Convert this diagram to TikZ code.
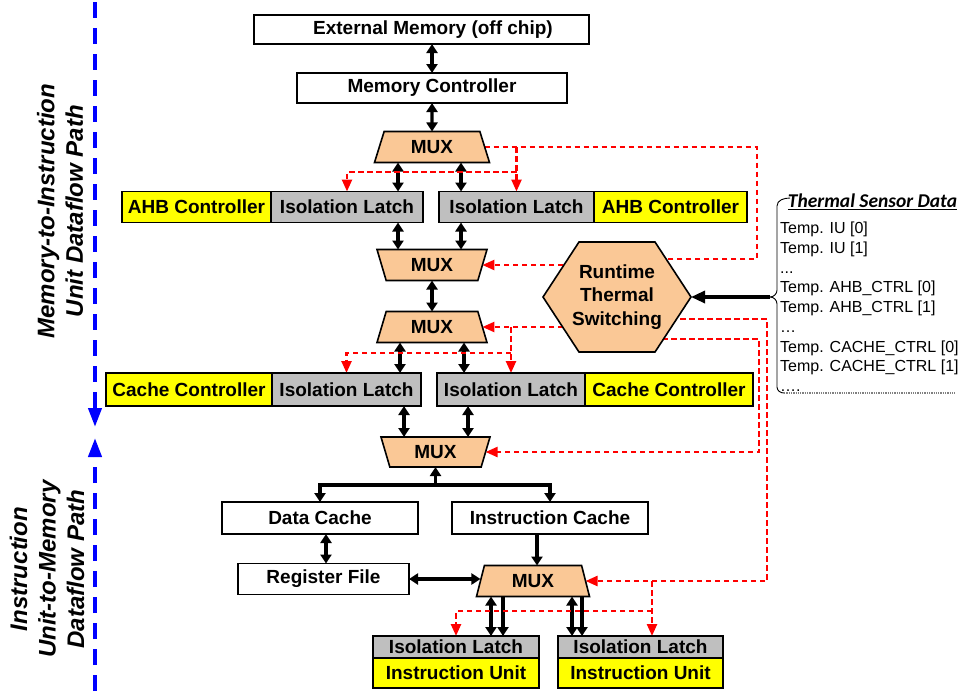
\documentclass[tikz,border=0pt]{standalone}
\usepackage{fontspec}
\setmainfont{Liberation Sans}
\newfontfamily\calibfont{Carlito}
\usetikzlibrary{shapes.geometric,shapes.symbols,arrows.meta,backgrounds}

\definecolor{ctrlyellow}{RGB}{255,255,0}
\definecolor{latchgray}{RGB}{191,191,191}
\definecolor{muxpeach}{RGB}{250,200,150}
\definecolor{ctrlred}{RGB}{255,0,0}
\definecolor{pathblue}{RGB}{0,0,255}

\begin{document}
\begin{tikzpicture}[x=1pt,y=-1pt,
  unitbox/.style={draw, line width=1.6pt, inner sep=0pt, outer sep=0pt,
    font=\bfseries\fontsize{19}{22}\selectfont},
  plainbox/.style={unitbox, fill=white},
  latchbox/.style={unitbox, fill=latchgray},
  ctrlbox/.style={unitbox, fill=ctrlyellow},
  muxbase/.style={unitbox, fill=muxpeach, shape=trapezium,
    trapezium stretches body=true, minimum height=31pt},
  muxup/.style 2 args={muxbase, trapezium left angle=#1,
    trapezium right angle=#1, minimum width=#2},
  muxdown/.style 2 args={muxup={#1}{#2}, shape border rotate=180},
  biarrow/.style={line width=3.2pt,
    {Triangle[width=11pt,length=9pt]}-{Triangle[width=11pt,length=9pt]}},
  fwdarrow/.style={line width=3.2pt, -{Triangle[width=11pt,length=9pt]}},
  ctrlline/.style={ctrlred, line width=2.4pt, dash pattern=on 5.5pt off 3.5pt},
  ctrlarrow/.style={ctrlline, -{Triangle[width=10pt,length=12pt]}},
  bluepath/.style={pathblue, line width=4pt, dash pattern=on 16pt off 10pt,
    -{Triangle[width=13pt,length=19pt]}},
  sidelabel/.style={rotate=90, align=center, inner sep=0pt,
    font=\bfseries\itshape\fontsize{24}{28.5}\selectfont}
]
\useasboundingbox (0,0) rectangle (963,691);

% ---- memory side ----
\node[plainbox, minimum width=335pt, minimum height=29pt] (ext) at (421.5,29.5)
  {\hspace*{23pt}External Memory (off chip)};
\node[plainbox, minimum width=270pt, minimum height=30pt] (memctl) at (432,88) {Memory Controller};
\node[muxup={54}{115pt}] (m1) at (432,147) {MUX};

% ---- AHB row ----
\node[ctrlbox, minimum width=149pt, minimum height=31pt] (ahb1) at (196.5,207) {AHB Controller};
\node[latchbox, minimum width=152pt, minimum height=31pt] (lat1) at (347,207) {Isolation Latch};
\node[latchbox, minimum width=155pt, minimum height=31pt] (lat2) at (516.5,207) {Isolation Latch};
\node[ctrlbox, minimum width=153pt, minimum height=31pt] (ahb2) at (670.5,207) {AHB Controller};

\node[muxdown={55.3}{110pt}] (m2) at (432,265) {MUX};
\node[muxup={55.3}{110pt}] (m3) at (432,327) {MUX};

% ---- cache controller row ----
\node[ctrlbox, minimum width=166pt, minimum height=33pt] (cc1) at (189,389.5) {Cache Controller};
\node[latchbox, minimum width=149pt, minimum height=33pt] (lat3) at (346.5,389.5) {Isolation Latch};
\node[latchbox, minimum width=148pt, minimum height=33pt] (lat4) at (511,389.5) {Isolation Latch};
\node[ctrlbox, minimum width=168pt, minimum height=33pt] (cc2) at (669,389.5) {Cache Controller};

\node[muxdown={56.3}{109pt}, minimum height=30pt] (m4) at (435.5,452) {MUX};

% ---- caches, register file, instruction units ----
\node[plainbox, minimum width=196pt, minimum height=32pt] (dc) at (320,518) {Data Cache};
\node[plainbox, minimum width=196pt, minimum height=32pt] (ic) at (550,518) {Instruction Cache};
\node[plainbox, minimum width=171pt, minimum height=31pt] (rf) at (323.5,579) {Register File};
\node[muxup={59.2}{113pt}] (m5) at (533,581) {MUX};

\node[latchbox, minimum width=166pt, minimum height=22pt] (lat5) at (456,647) {Isolation Latch};
\node[ctrlbox, minimum width=166pt, minimum height=30pt] (iu1) at (456,673) {Instruction Unit};
\node[latchbox, minimum width=165pt, minimum height=22pt] (lat6) at (640.5,647) {Isolation Latch};
\node[ctrlbox, minimum width=165pt, minimum height=30pt] (iu2) at (640.5,673) {Instruction Unit};

% ---- thermal switching unit ----
\node[unitbox, fill=muxpeach, shape=signal, signal to=west and east,
  signal pointer angle=113.6, inner xsep=-7pt, minimum width=148pt, minimum height=110pt,
  align=center, font=\bfseries\fontsize{19}{23.5}\selectfont] (hex) at (617,297)
  {Runtime\\Thermal\\Switching};

% ---- sensor list with brace ----
\node[inner sep=0pt, font=\calibfont\bfseries\itshape\fontsize{19.5}{22}\selectfont]
  (senshead) at (872.5,202) {\underline{Thermal Sensor Data}};
\node[inner sep=0pt, anchor=north west, align=left,
  font=\fontsize{16}{19.7}\selectfont] (senslist) at (780,222)
  {Temp. IU [0]\\Temp. IU [1]\\...\\Temp. AHB\_CTRL [0]\\Temp. AHB\_CTRL [1]\\%
   …\\Temp. CACHE\_CTRL [0]\\Temp. CACHE\_CTRL [1]\\….};
\coordinate (btip) at (770,297);
\draw[line width=0.9pt] (790,198) to[out=180,in=90] (777,206) -- (777,290)
  to[out=270,in=0] (btip) to[out=0,in=90] (777,304) -- (777,387)
  to[out=270,in=180] (784,393);
\draw[gray, line width=1.3pt, densely dotted] (784,393) -- (955,393);
\draw[line width=3.2pt, -{Triangle[width=12pt,length=14pt]}] (btip) -- (hex.east);

% ---- side labels and divider ----
\node[sidelabel] (upperlbl) at (60,211) {Memory-to-Instruction\\Unit Dataflow Path};
\node[sidelabel] (lowerlbl) at (47,569) {Instruction\\Unit-to-Memory\\Dataflow Path};
\coordinate (btop) at (95,2);
\coordinate (bmida) at (95,427);
\coordinate (bmidb) at (95,438);
\coordinate (bbot) at (95,691);
\draw[bluepath] (btop) -- (bmida);
\draw[bluepath] (bbot) -- (bmidb);

% ---- connectors (behind the blocks) ----
\begin{scope}[on background layer]
  \fill[white] (0,0) rectangle (963,691);

  % data paths
  \draw[biarrow] (memctl.north |- ext.south) -- (memctl.north);
  \draw[biarrow] (memctl.south) -- (m1.north);
  \coordinate (xa) at (398,0);
  \coordinate (xb) at (461,0);
  \coordinate (xc) at (400,0);
  \coordinate (xd) at (464,0);
  \coordinate (xe) at (404,0);
  \coordinate (xf) at (468,0);
  \draw[biarrow] (xa |- m1.south) -- (xa |- lat1.north);
  \draw[biarrow] (xb |- m1.south) -- (xb |- lat2.north);
  \draw[biarrow] (xa |- lat1.south) -- (xa |- m2.north);
  \draw[biarrow] (xb |- lat2.south) -- (xb |- m2.north);
  \draw[biarrow] (m2.south) -- (m3.north);
  \draw[biarrow] (xc |- m3.south) -- (xc |- lat3.north);
  \draw[biarrow] (xd |- m3.south) -- (xd |- lat4.north);
  \draw[biarrow] (xe |- lat3.south) -- (xe |- m4.north);
  \draw[biarrow] (xf |- lat4.south) -- (xf |- m4.north);

  \coordinate (bus) at (m4.south |- 0,485);
  \draw[fwdarrow] (bus) -- (m4.south);
  \draw[fwdarrow] (bus) -| (dc.north);
  \draw[fwdarrow] (bus) -| (ic.north);

  \draw[biarrow] (326,0 |- dc.south) -- (326,0 |- rf.north);
  \draw[fwdarrow] (537,0 |- ic.south) -- (537,0 |- m5.north);
  \draw[biarrow] (rf.east) -- (rf.east -| m5.west);
  \draw[biarrow] (491,0 |- m5.south) -- (491,0 |- lat5.north);
  \draw[fwdarrow] (503,0 |- m5.south) -- (503,0 |- lat5.north);
  \draw[biarrow] (572,0 |- m5.south) -- (572,0 |- lat6.north);
  \draw[fwdarrow] (582,0 |- m5.south) -- (582,0 |- lat6.north);

  % thermal switching control lines
  \coordinate (k1) at (757,259);
  \draw[ctrlline] (m1.east) -| (k1) -- (k1 -| hex.center);
  \draw[ctrlarrow] (lat2.north |- m1.east) -- (lat2.north);
  \coordinate (j1) at (lat2.north |- 0,172);
  \draw[ctrlarrow] (j1) -| (lat1.north);

  \draw[ctrlarrow] (m2.east -| hex.center) -- (m2.east);
  \draw[ctrlarrow] (m3.east -| hex.center) -- (m3.east);
  \draw[ctrlarrow] (lat4.north |- m3.east) -- (lat4.north);
  \coordinate (j3) at (lat4.north |- 0,353);
  \draw[ctrlarrow] (j3) -| (lat3.north);

  \coordinate (k4) at (759,339);
  \draw[ctrlarrow] (k4 -| hex.center) -- (k4) |- (m4.east);

  \coordinate (k5) at (767,319);
  \draw[ctrlarrow] (k5 -| hex.center) -- (k5) |- (m5.east);
  \coordinate (j5) at (652,0 |- m5.east);
  \draw[ctrlarrow] (j5) -- (j5 |- lat6.north);
  \coordinate (j6) at (j5 |- 0,611);
  \draw[ctrlarrow] (j6) -| (lat5.north);
\end{scope}
\end{tikzpicture}
\end{document}
